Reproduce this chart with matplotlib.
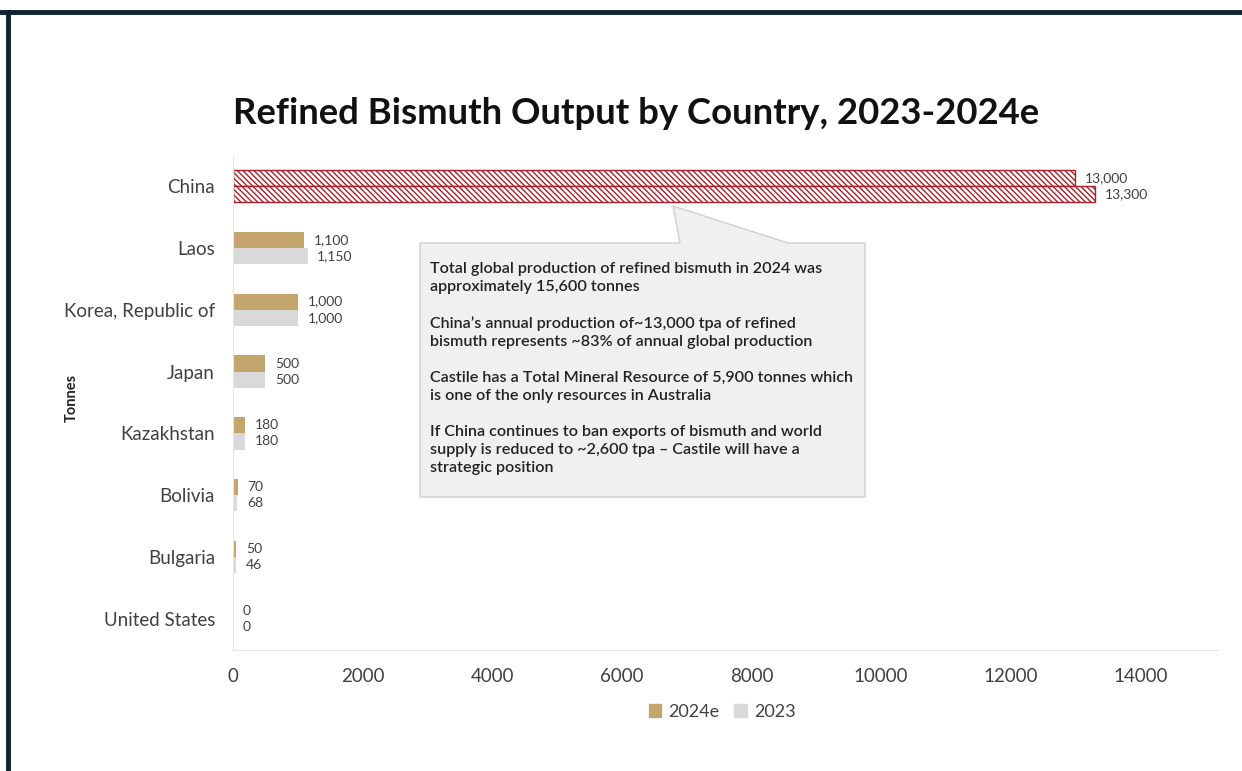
import matplotlib.pyplot as plt
import matplotlib.patches as mpatches
from matplotlib.lines import Line2D
import numpy as np

plt.rcParams['font.family'] = ['Lato', 'DejaVu Sans']
plt.rcParams['hatch.linewidth'] = 1.0

countries = ['China', 'Laos', 'Korea, Republic of', 'Japan', 'Kazakhstan',
             'Bolivia', 'Bulgaria', 'United States']
out_2024e = [13000, 1100, 1000, 500, 180, 70, 50, 0]
out_2023 = [13300, 1150, 1000, 500, 180, 68, 46, 0]

gold = '#C2A66C'
grey = '#D9D9D9'
red = '#A8202A'
txt = '#404040'

fig = plt.figure(figsize=(12.42, 7.71), dpi=100)
ax = fig.add_axes([233 / 1242, 1 - 650 / 771, (1218 - 233) / 1242, (650 - 155) / 771])

y = np.arange(len(countries))
h = 0.26
for i, (a, b) in enumerate(zip(out_2024e, out_2023)):
    if i == 0:
        ax.barh(y[i] - h / 2, a, height=h, color='white', edgecolor=red,
                hatch='\\\\\\\\\\\\', linewidth=1)
        ax.barh(y[i] + h / 2, b, height=h, color='white', edgecolor=red,
                hatch='\\\\\\\\\\\\', linewidth=1)
    else:
        ax.barh(y[i] - h / 2, a, height=h, color=gold)
        ax.barh(y[i] + h / 2, b, height=h, color=grey)
    ax.annotate(f'{a:,}', (a, y[i] - h / 2), xytext=(7, 0), textcoords='offset points',
                va='center', ha='left', fontsize=10, color=txt)
    ax.annotate(f'{b:,}', (b, y[i] + h / 2), xytext=(7, 0), textcoords='offset points',
                va='center', ha='left', fontsize=10, color=txt)

ax.set_ylim(7.5, -0.5)
ax.set_xlim(0, 15200)
ax.set_yticks(y)
ax.set_yticklabels(countries, fontsize=13.5, color=txt)
ax.set_xticks(range(0, 15000, 2000))
ax.tick_params(axis='x', labelsize=13.5, colors=txt, length=0, pad=13)
ax.tick_params(axis='y', length=0, pad=13)
for s in ['top', 'right']:
    ax.spines[s].set_visible(False)
for s in ['left', 'bottom']:
    ax.spines[s].set_color('#E6E6E6')

fig.text(72 / 1242, 1 - 398 / 771, 'Tonnes', rotation=90, fontsize=10.5,
         fontweight='bold', ha='center', va='center', color='#222222')

fig.text(233 / 1242, 1 - 113 / 771, 'Refined Bismuth Output by Country, 2023-2024e',
         fontsize=26.3, fontweight='bold', ha='left', va='center', color='#111111')

# callout box with pointer
W, H = 1242, 771
pts = [(420, 243), (680, 243), (673, 206), (788, 243), (865, 243), (865, 497), (420, 497)]
poly = mpatches.Polygon([(x / W, 1 - yy / H) for x, yy in pts], closed=True,
                        transform=fig.transFigure, facecolor='#F0F0F0',
                        edgecolor='#CFCFCF', linewidth=1)
fig.add_artist(poly)
notes = ('Total global production of refined bismuth in 2024 was\n'
         'approximately 15,600 tonnes\n\n'
         'China\u2019s annual production of~13,000 tpa of refined\n'
         'bismuth represents ~83% of annual global production\n\n'
         'Castile has a Total Mineral Resource of 5,900 tonnes which\n'
         'is one of the only resources in Australia\n\n'
         'If China continues to ban exports of bismuth and world\n'
         'supply is reduced to ~2,600 tpa \u2013 Castile will have a\n'
         'strategic position')
fig.text(430 / W, 1 - 262 / H, notes, fontsize=11.6, fontweight='semibold',
         ha='left', va='top', color='#222222', linespacing=1.36)

handles = [mpatches.Patch(color=gold, label='2024e'),
           mpatches.Patch(color=grey, label='2023')]
fig.legend(handles=handles, loc='center', bbox_to_anchor=(722 / W, 1 - 712 / H),
           ncol=2, frameon=False, fontsize=13, handlelength=0.7, handleheight=0.7,
           handletextpad=0.4, columnspacing=0.8, labelcolor=txt)

# dark frame on top and left
fig.add_artist(Line2D([0, 1], [1 - 12 / H, 1 - 12 / H], transform=fig.transFigure,
                      color='#0E2430', linewidth=3.5))
fig.add_artist(Line2D([8 / W, 8 / W], [0, 1 - 12 / H], transform=fig.transFigure,
                      color='#0E2430', linewidth=3.5))

plt.savefig('out.png', dpi=100)
